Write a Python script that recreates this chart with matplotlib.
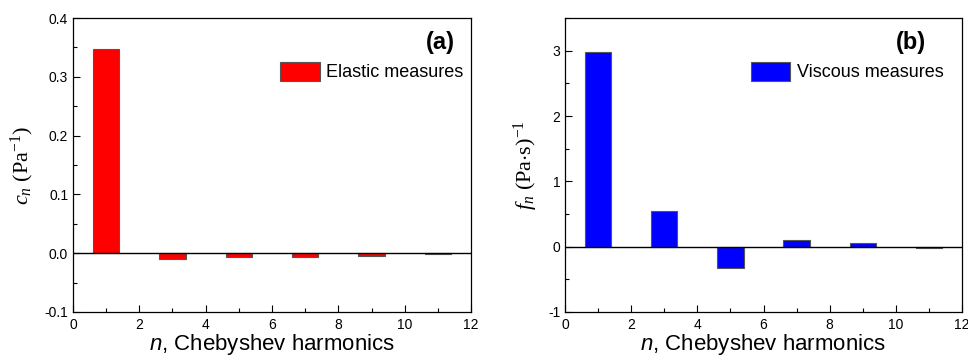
import matplotlib.pyplot as plt
from matplotlib.ticker import MultipleLocator

# Chebyshev harmonic numbers and coefficients
harmonics = [1, 3, 5, 7, 9, 11]
elastic_cn = [0.347, -0.010, -0.007, -0.006, -0.004, -0.001]
viscous_fn = [2.98, 0.55, -0.32, 0.10, 0.05, -0.02]

plt.rcParams['font.family'] = 'Liberation Sans'
plt.rcParams['axes.unicode_minus'] = False
plt.rcParams['mathtext.fontset'] = 'custom'
plt.rcParams['mathtext.rm'] = 'Liberation Serif'
plt.rcParams['mathtext.it'] = 'Liberation Serif:italic'
plt.rcParams['mathtext.sf'] = 'Liberation Sans:italic'

fig = plt.figure(figsize=(9.68, 3.58), dpi=100)
ax1 = fig.add_axes([0.0754, 0.1285, 0.4112, 0.8212])
ax2 = fig.add_axes([0.5837, 0.1285, 0.4101, 0.8212])


def style_axis(ax, ylim, major, minor):
    ax.set_xlim(0, 12)
    ax.set_ylim(*ylim)
    ax.axhline(0, color='black', lw=1.0, zorder=3)
    ax.xaxis.set_major_locator(MultipleLocator(2))
    ax.xaxis.set_minor_locator(MultipleLocator(1))
    ax.yaxis.set_major_locator(MultipleLocator(major))
    ax.yaxis.set_minor_locator(MultipleLocator(minor))
    ax.tick_params(which='both', direction='in', top=False, right=False,
                   labelsize=10, width=0.8)
    ax.tick_params(axis='x', pad=4)
    ax.tick_params(which='major', length=5)
    ax.tick_params(which='minor', length=3)
    for s in ax.spines.values():
        s.set_linewidth(0.9)
    ax.set_xlabel(r'$\mathsf{n}$, Chebyshev harmonics', fontsize=16, labelpad=0.5)


def add_legend(ax, x_anchor):
    ax.legend(loc='upper right', bbox_to_anchor=(x_anchor, 0.895), frameon=False,
              fontsize=13, handlelength=2.2, handleheight=1.3,
              handletextpad=0.35, borderaxespad=0.3)


# (a) elastic
ax1.bar(harmonics, elastic_cn, width=0.8, color='#ff0000', edgecolor='#555555',
        linewidth=0.8, label='Elastic measures', zorder=2)
style_axis(ax1, (-0.1, 0.4), 0.1, 0.05)
ax1.yaxis.set_major_formatter(plt.FormatStrFormatter('%.1f'))
ax1.set_ylabel(r'$c_n$ (Pa$^{-1}$)', fontsize=16, family='Liberation Serif', labelpad=6)
ax1.text(0.96, 0.918, '(a)', transform=ax1.transAxes, ha='right', va='center',
         fontsize=17, fontweight='bold')
add_legend(ax1, 1.013)

# (b) viscous
ax2.bar(harmonics, viscous_fn, width=0.8, color='#0000ff', edgecolor='#555555',
        linewidth=0.8, label='Viscous measures', zorder=2)
style_axis(ax2, (-1, 3.5), 1, 0.5)
ax2.set_ylabel(r'$f_n$ (Pa$\cdot$s)$^{-1}$', fontsize=16, family='Liberation Serif', labelpad=6)
ax2.text(0.909, 0.918, '(b)', transform=ax2.transAxes, ha='right', va='center',
         fontsize=17, fontweight='bold')
add_legend(ax2, 0.985)

fig.savefig('out.png', dpi=100)
